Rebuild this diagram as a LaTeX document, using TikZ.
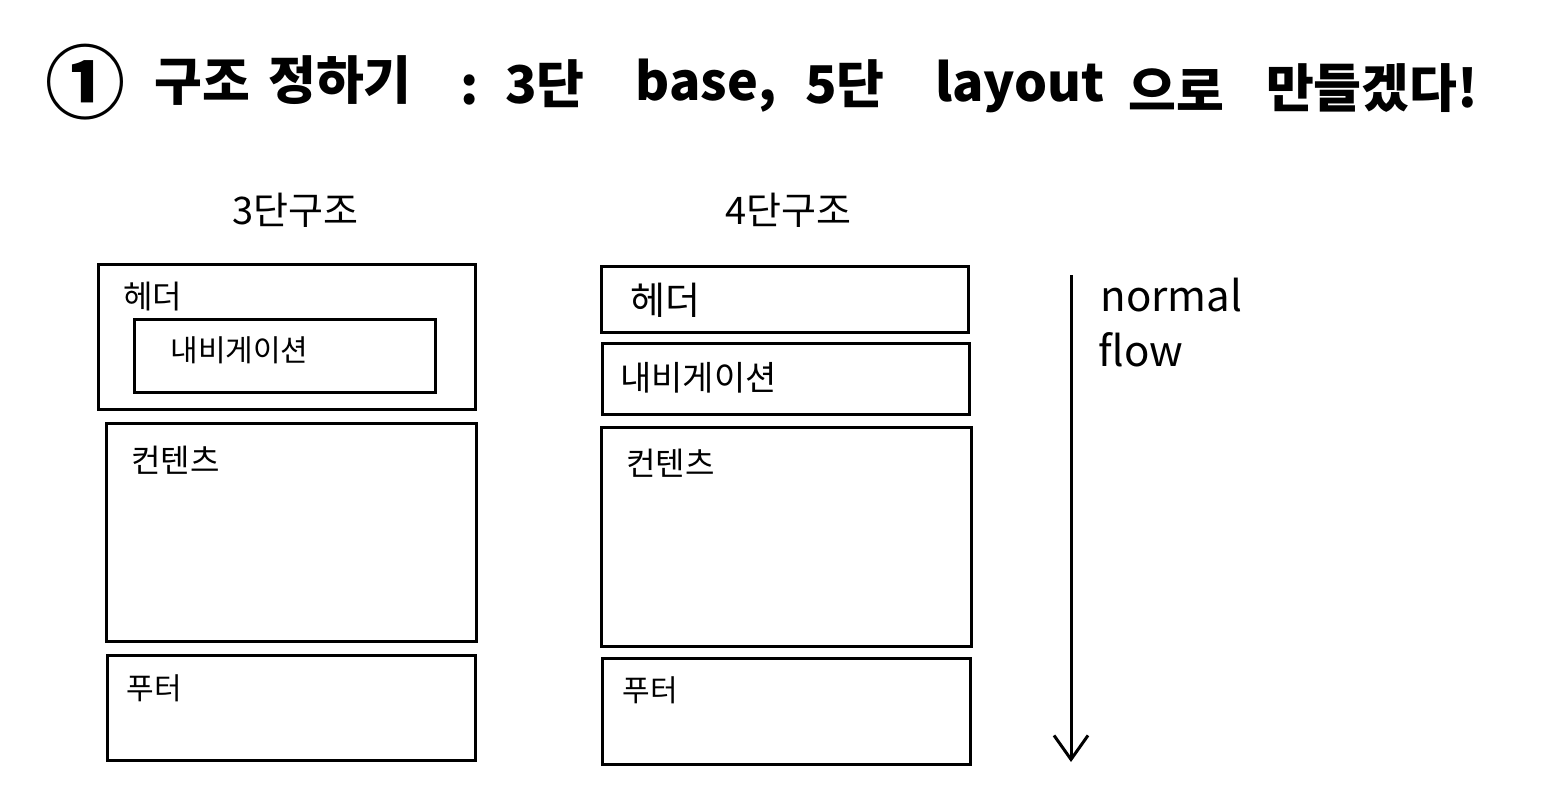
\documentclass[tikz,border=0pt]{standalone}
\usepackage{fontspec}
\setmainfont{Noto Sans CJK KR}
\usetikzlibrary{arrows.meta}
\tikzset{
  sketch/.style={draw=black, line width=1.5pt},
  ttl/.style={font=\fontsize{26}{30}\selectfont\bfseries, inner sep=0pt},
  sub/.style={font=\fontsize{19}{22}\selectfont, inner sep=0pt},
  lbl/.style={anchor=west, inner sep=0pt},
}
\begin{document}
\begin{tikzpicture}[x=0.5pt,y=-0.5pt]
\useasboundingbox[fill=white] (0,0) rectangle (1541,800);
% title
\node[ttl, font=\fontsize{40}{42}\selectfont\bfseries] (t0) at (85,82) {①};
\node[ttl] (t1) at (202,82) {구조};
\node[ttl] (t2) at (340,80) {정하기};
\node[ttl] (t3) at (470,90) {:};
\node[ttl] (t4) at (545,84) {3단};
\node[ttl] (t5) at (706,86) {base,};
\node[ttl] (t6) at (845,84) {5단};
\node[ttl] (t7) at (1020,86) {layout};
\node[ttl] (t8) at (1176,90) {으로};
\node[ttl] (t9) at (1372,88) {만들겠다!};
% subtitles
\node[sub] (s1) at (295,210) {3단구조};
\node[sub] (s2) at (788,210) {4단구조};
% left column
\draw[sketch] (98,264) rectangle (475,409);
\draw[sketch] (134,319) rectangle (435,392);
\draw[sketch] (106,423) rectangle (476,641);
\draw[sketch] (107,655) rectangle (475,760);
\node[lbl, font=\fontsize{16}{18}\selectfont] (lh) at (123,297) {헤더};
\node[lbl, font=\fontsize{15}{18}\selectfont] (ln) at (170,350) {내비게이션};
\node[lbl, font=\fontsize{16}{18}\selectfont] (lc) at (131,460) {컨텐츠};
\node[lbl, font=\fontsize{15}{18}\selectfont] (lf) at (126,688) {푸터};
% right column
\draw[sketch] (601,266) rectangle (968,332);
\draw[sketch] (602,343) rectangle (969,414);
\draw[sketch] (601,427) rectangle (971,646);
\draw[sketch] (602,658) rectangle (970,764);
\node[lbl, font=\fontsize{19}{20}\selectfont] (rh) at (630,300) {헤더};
\node[lbl, font=\fontsize{17}{20}\selectfont] (rn) at (620,378) {내비게이션};
\node[lbl, font=\fontsize{16}{18}\selectfont] (rc) at (626,463) {컨텐츠};
\node[lbl, font=\fontsize{15}{18}\selectfont] (rf) at (622,690) {푸터};
% flow arrow
\coordinate (a0) at (1071,275);
\coordinate (a1) at (1071,762);
\draw[sketch, -{Straight Barb[length=12pt,width=17pt,line width=1.5pt]}] (a0) -- (a1);
\node[lbl, font=\fontsize{21}{22}\selectfont] (n1) at (1100,295) {normal};
\node[lbl, font=\fontsize{21}{22}\selectfont] (n2) at (1098,350) {flow};
\end{tikzpicture}
\end{document}
